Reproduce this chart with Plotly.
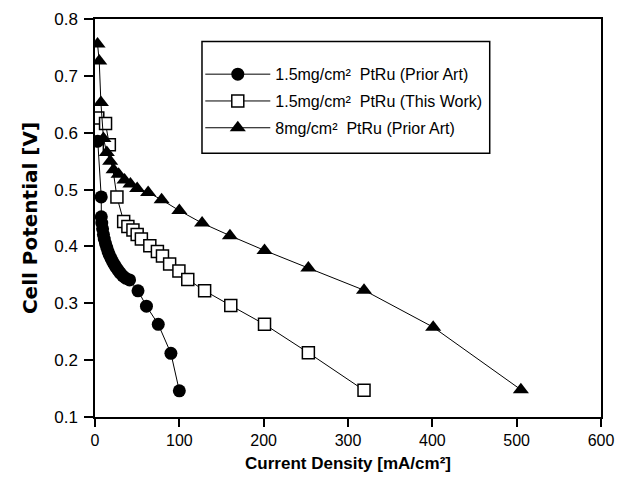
import plotly.graph_objects as go

# Series 1: 1.5mg/cm2 PtRu (Prior Art) - filled circles
circ_x = [3.3, 7.4, 7.5, 8, 9, 10, 11, 12.5, 14, 15.5, 17, 19, 21, 23, 25, 27.5, 30, 33, 36.5, 41, 51, 61, 75, 90, 100]
circ_y = [0.585, 0.487, 0.452, 0.441, 0.431, 0.421, 0.413, 0.405, 0.398, 0.391, 0.385, 0.379, 0.373, 0.368, 0.363, 0.358, 0.353, 0.348, 0.344, 0.341, 0.322, 0.295, 0.263, 0.212, 0.146]

# Series 2: 1.5mg/cm2 PtRu (This Work) - open squares
sq_x = [3.3, 12.5, 17, 26, 34, 39, 45, 50, 55, 65, 74, 80, 88.5, 99.5, 110, 130, 161, 201, 253, 319]
sq_y = [0.626, 0.616, 0.579, 0.487, 0.444, 0.435, 0.429, 0.421, 0.413, 0.401, 0.391, 0.383, 0.369, 0.357, 0.342, 0.322, 0.296, 0.263, 0.213, 0.147]

# Series 3: 8mg/cm2 PtRu (Prior Art) - filled triangles
tri_x = [3, 5, 7, 10, 14, 18, 22, 28, 35, 42, 50, 63, 79, 100, 127, 160, 201, 253, 319, 401, 505]
tri_y = [0.756, 0.726, 0.653, 0.59, 0.565, 0.55, 0.535, 0.527, 0.517, 0.51, 0.502, 0.495, 0.482, 0.463, 0.441, 0.419, 0.393, 0.362, 0.323, 0.258, 0.148]

names = ["1.5mg/cm\u00b2\u00a0 PtRu (Prior Art)",
         "1.5mg/cm\u00b2\u00a0 PtRu (This Work)",
         "8mg/cm\u00b2\u00a0 PtRu (Prior Art)"]

x_ticks = [0, 100, 200, 300, 400, 500, 600]
y_ticks = [0.1, 0.2, 0.3, 0.4, 0.5, 0.6, 0.7, 0.8]

FONT = "Arial, Liberation Sans, sans-serif"

fig = go.Figure()
fig.add_trace(go.Scatter(x=circ_x, y=circ_y, mode="lines+markers", name=names[0],
                         legendgroup="a",
                         line=dict(color="black", width=1),
                         marker=dict(symbol="circle", size=13, color="black")))
fig.add_trace(go.Scatter(x=sq_x, y=sq_y, mode="lines+markers", name=names[1],
                         legendgroup="b",
                         line=dict(color="black", width=1),
                         marker=dict(symbol="square", size=12, color="white",
                                     line=dict(color="black", width=1.5))))
fig.add_trace(go.Scatter(x=tri_x, y=tri_y, mode="lines+markers", name=names[2],
                         legendgroup="c",
                         line=dict(color="black", width=1),
                         marker=dict(symbol="triangle-up", size=14, color="black")))

L, R, T, B = 94.5, 16.5, 19.3, 65.3
W, H = 618, 482
pw = W - L - R
ph = H - T - B

def px2paper_x(px):
    return (px - L) / pw

def px2paper_y(py):
    return (H - B - py) / ph

# legend frame
fig.add_shape(type="rect", xref="paper", yref="paper",
              x0=px2paper_x(201.7), x1=px2paper_x(490),
              y0=px2paper_y(153.3), y1=px2paper_y(41.7),
              line=dict(color="black", width=1.5), fillcolor="white", layer="below")

fig.update_layout(
    width=W, height=H,
    margin=dict(l=L, r=R, t=T, b=B, autoexpand=False),
    paper_bgcolor="white", plot_bgcolor="white",
    font=dict(family=FONT, size=16, color="black"),
    showlegend=True,
    legend=dict(x=px2paper_x(200), y=px2paper_y(57.5), xanchor="left", yanchor="top",
                bgcolor="rgba(0,0,0,0)", borderwidth=0, itemwidth=65,
                font=dict(family=FONT, size=16, color="black"),
                tracegroupgap=3),
    xaxis=dict(range=[0, 600], tickvals=x_ticks, ticktext=[str(v) for v in x_ticks],
               showline=True, linecolor="black", linewidth=1.5, mirror=True,
               ticks="outside", ticklen=8, tickwidth=1.5, tickcolor="black",
               showgrid=False, zeroline=False, automargin=False,
               tickfont=dict(family=FONT, size=16),
               title=dict(text="<b>Current Density [mA/cm\u00b2]</b>",
                          font=dict(family=FONT, size=17), standoff=9)),
    yaxis=dict(range=[0.1, 0.8], tickvals=y_ticks, ticktext=["%.1f" % v for v in y_ticks],
               showline=True, linecolor="black", linewidth=1.5, mirror=True,
               ticks="outside", ticklen=9, tickwidth=1.5, tickcolor="black",
               showgrid=False, zeroline=False, automargin=False,
               tickfont=dict(family=FONT, size=17), ticklabelstandoff=3,
               title=dict(text="<b>Cell Potential [V]</b>",
                          font=dict(family="DejaVu Sans, sans-serif", size=20), standoff=11)),
)

fig.write_html("out.html", config={"displayModeBar": False},
               post_script="document.body.style.margin='0px';document.body.style.overflow='hidden';")
